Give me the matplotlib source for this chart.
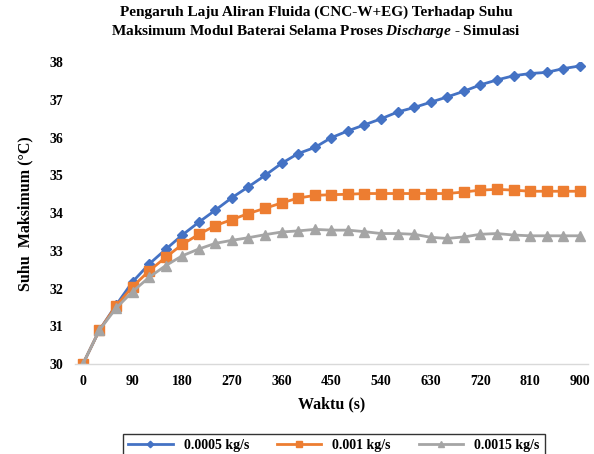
import matplotlib.pyplot as plt

# waktu simulasi (s) dan suhu maksimum modul (°C) tiap laju aliran
waktu = list(range(0, 901, 30))
suhu_00005 = [30.00, 30.90, 31.56, 32.18, 32.65, 33.04, 33.42, 33.76, 34.08, 34.41,
              34.70, 35.00, 35.32, 35.58, 35.74, 36.00, 36.18, 36.34, 36.50, 36.68,
              36.80, 36.94, 37.08, 37.23, 37.40, 37.53, 37.64, 37.70, 37.73, 37.83,
              37.90]
suhu_0001 = [30.00, 30.90, 31.54, 32.05, 32.47, 32.83, 33.17, 33.44, 33.67, 33.83,
             33.99, 34.13, 34.27, 34.40, 34.47, 34.49, 34.50, 34.52, 34.52, 34.52,
             34.52, 34.52, 34.52, 34.56, 34.61, 34.63, 34.61, 34.58, 34.58, 34.58,
             34.58]
suhu_00015 = [30.00, 30.90, 31.48, 31.92, 32.30, 32.61, 32.87, 33.05, 33.20, 33.28,
              33.35, 33.43, 33.50, 33.53, 33.57, 33.55, 33.55, 33.51, 33.46, 33.46,
              33.44, 33.36, 33.33, 33.37, 33.44, 33.46, 33.42, 33.40, 33.40, 33.40,
              33.40]
label_laju = ['0.0005 kg/s', '0.001 kg/s', '0.0015 kg/s']
xticks = list(range(0, 901, 90))

plt.rcParams['font.family'] = ['Liberation Serif', 'DejaVu Serif']
plt.rcParams['font.weight'] = 'bold'
plt.rcParams['mathtext.fontset'] = 'custom'
plt.rcParams['mathtext.it'] = 'Liberation Serif:italic:bold'
plt.rcParams['mathtext.rm'] = 'Liberation Serif:bold'

fig = plt.figure(figsize=(5.94, 4.54), dpi=100)
ax = fig.add_axes([0.126, 0.198, 0.864, 0.665])

ax.plot(waktu, suhu_00005, color='#4472C4', marker='D', markersize=5.5, lw=2, label=label_laju[0])
ax.plot(waktu, suhu_0001, color='#ED7D31', marker='s', markersize=6.5, lw=2, label=label_laju[1])
ax.plot(waktu, suhu_00015, color='#A5A5A5', marker='^', markersize=7, lw=2, label=label_laju[2])

ax.set_xlim(-14.5, 915)
ax.set_ylim(30, 38)
ax.set_xticks(xticks)
ax.set_yticks(range(30, 39))
ax.tick_params(length=0, labelsize=10, pad=8)
for lab in ax.get_xticklabels() + ax.get_yticklabels():
    lab.set_fontweight('bold')

for s in ['top', 'right', 'left']:
    ax.spines[s].set_visible(False)
ax.spines['bottom'].set_color('#d9d9d9')
ax.spines['bottom'].set_linewidth(1)

ax.set_xlabel('Waktu (s)', fontsize=11.5, fontweight='bold', labelpad=6)
ax.set_ylabel('Suhu  Maksimum (°C)', fontsize=11.5, fontweight='bold', labelpad=12)

fig.text(0.532, 0.988, 'Pengaruh Laju Aliran Fluida (CNC-W+EG) Terhadap Suhu',
         ha='center', va='top', fontsize=11, fontweight='bold')
fig.text(0.532, 0.950, 'Maksimum Modul Baterai Selama Proses $\\mathit{Discharge}$ - Simulasi',
         ha='center', va='top', fontsize=11, fontweight='bold')

leg = fig.legend(loc='upper center', bbox_to_anchor=(0.562, 0.06), ncol=3,
                 fontsize=10, frameon=True, fancybox=False, handlelength=3.2,
                 columnspacing=2.0, markerscale=0.6, borderpad=0.4)
leg.get_frame().set_edgecolor('black')
leg.get_frame().set_linewidth(1)
for t in leg.get_texts():
    t.set_fontweight('bold')

fig.savefig('out.png', dpi=100)
